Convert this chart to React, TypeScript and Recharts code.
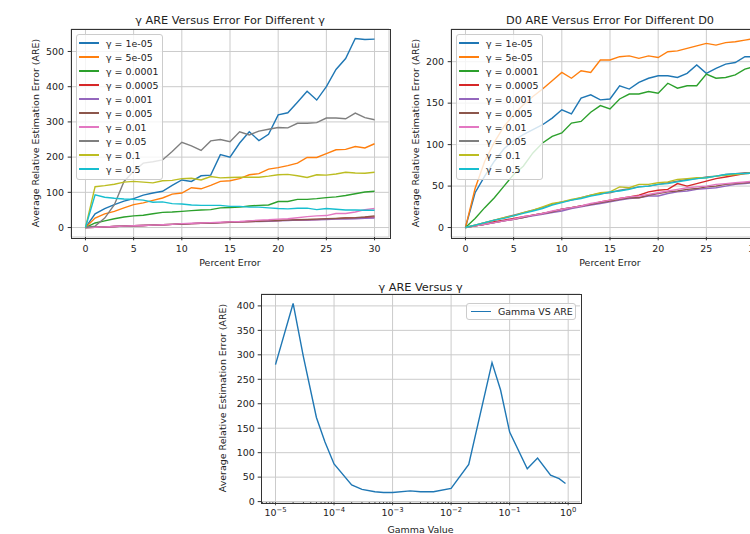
import { CartesianGrid, Line, LineChart, ReferenceLine, XAxis, YAxis } from 'recharts'

const FONT = '"DejaVu Sans", sans-serif'
const INK = '#222222'
const SPINE = '#333333'
const GRID = '#cbcbcb'
const FS = 9.45

const percentError = [
  0, 1, 2, 3, 4, 5, 6, 7, 8, 9, 10, 11, 12, 13, 14, 15, 16, 17, 18, 19, 20, 21, 22, 23, 24, 25, 26, 27, 28, 29, 30,
]
const gammaLabels = ['1e-05', '5e-05', '0.0001', '0.0005', '0.001', '0.005', '0.01', '0.05', '0.1', '0.5']
const colors = ['#1f77b4', '#ff7f0e', '#2ca02c', '#d62728', '#9467bd', '#8c564b', '#e377c2', '#7f7f7f', '#bcbd22', '#17becf']
const errorTicks = [0, 5, 10, 15, 20, 25, 30]

// gamma ARE vs percent error (left panel)
const gAre1e5 = [0, 39, 54, 65, 75, 82, 92, 98, 103, 120, 135, 131, 147, 149, 207, 200, 240, 272, 247, 265, 320, 326, 356, 387, 362, 400, 449, 480, 537, 534, 535]
const gAre5e5 = [0, 27, 39, 46, 56, 65, 70, 77, 84, 95, 98, 113, 110, 120, 131, 133, 139, 150, 153, 166, 170, 176, 183, 199, 199, 210, 221, 222, 230, 226, 238]
const gAre1e4 = [0, 13, 19, 25, 30, 33, 35, 39, 43, 44, 46, 48, 50, 51, 56, 57, 58, 61, 63, 64, 74, 74, 80, 80, 82, 85, 87, 91, 96, 101, 103]
const gAre5e4 = [0, 1, 2, 3, 4, 5, 6, 7, 8, 9, 10, 11, 12, 13, 14, 15, 16, 17, 18, 19, 20, 21, 21, 22, 23, 24, 25, 27, 27, 29, 30]
const gAre1e3 = [0, 1, 2, 3, 4, 5, 6, 7, 8, 9, 10, 11, 12, 13, 14, 15, 16, 17, 17, 18, 19, 20, 21, 21, 22, 23, 24, 24, 25, 26, 27]
const gAre5e3 = [0, 1, 2, 3, 4, 5, 6, 7, 8, 9, 10, 11, 12, 13, 14, 15, 16, 17, 18, 19, 20, 21, 22, 23, 24, 25, 26, 27, 28, 30, 33]
const gAre1e2 = [0, 1, 2, 3, 4, 5, 6, 7, 8, 9, 11, 12, 13, 14, 15, 16, 17, 19, 21, 22, 24, 25, 28, 31, 33, 34, 40, 40, 44, 51, 54]
const gAre5e2 = [0, 4, 27, 65, 131, 160, 183, 187, 192, 216, 242, 232, 219, 246, 250, 244, 272, 263, 274, 279, 284, 283, 296, 296, 298, 311, 311, 309, 325, 312, 306]
const gAre1e1 = [0, 116, 119, 123, 129, 131, 129, 127, 133, 134, 139, 140, 135, 145, 141, 142, 143, 143, 143, 146, 150, 151, 147, 142, 150, 149, 152, 157, 155, 154, 157]
const gAre5e1 = [0, 93, 86, 83, 81, 80, 78, 72, 73, 68, 67, 64, 63, 63, 63, 60, 60, 58, 58, 56, 54, 53, 55, 55, 51, 54, 52, 50, 50, 49, 49]

// D0 ARE vs percent error (right panel)
const dAre1e5 = [0, 42, 62, 80, 95, 105, 112, 118, 124, 132, 142, 137, 156, 160, 154, 155, 171, 167, 175, 180, 183, 183, 181, 186, 196, 186, 192, 197, 199, 206, 206]
const dAre5e5 = [0, 47, 80, 103, 122, 136, 148, 158, 167, 177, 187, 180, 189, 187, 202, 202, 206, 207, 204, 207, 205, 212, 213, 216, 219, 222, 220, 223, 224, 226, 228]
const dAre1e4 = [0, 11, 24, 36, 50, 64, 74, 90, 102, 110, 114, 126, 128, 139, 147, 143, 155, 161, 161, 164, 162, 174, 168, 171, 171, 185, 180, 181, 184, 191, 194]
const dAre5e4 = [0, 2, 4, 7, 9, 11, 13, 15, 17, 19, 22, 24, 26, 28, 31, 33, 35, 37, 39, 43, 45, 46, 53, 50, 53, 56, 59, 61, 63, 65, 66]
const dAre1e3 = [0, 2, 4, 6, 8, 10, 12, 14, 16, 18, 20, 23, 25, 27, 29, 31, 33, 35, 36, 38, 38, 41, 43, 44, 46, 47, 48, 50, 52, 53, 54]
const dAre5e3 = [0, 2, 4, 6, 8, 10, 12, 15, 17, 19, 22, 24, 26, 28, 30, 32, 34, 36, 36, 39, 41, 43, 44, 46, 47, 49, 50, 52, 53, 54, 55]
const dAre1e2 = [0, 2, 4, 6, 8, 10, 13, 15, 17, 20, 22, 24, 26, 29, 31, 33, 35, 37, 38, 40, 42, 44, 46, 48, 49, 50, 52, 53, 54, 55, 56]
const dAre5e2 = [0, 3, 6, 9, 12, 15, 18, 21, 24, 28, 31, 33, 36, 39, 41, 42, 45, 47, 49, 50, 52, 54, 56, 58, 59, 61, 62, 64, 65, 66, 66]
const dAre1e1 = [0, 3, 6, 9, 12, 14, 18, 21, 25, 29, 31, 34, 36, 39, 42, 43, 49, 48, 52, 52, 54, 55, 58, 59, 60, 60, 62, 63, 64, 65, 66]
const dAre5e1 = [0, 3, 6, 9, 11, 14, 17, 20, 23, 27, 30, 33, 35, 38, 40, 43, 44, 46, 49, 50, 52, 53, 55, 57, 59, 60, 62, 64, 65, 65, 66]

// gamma sweep (bottom panel)
const gammaValues = [1e-5, 2e-5, 3e-5, 5e-5, 7e-5, 1e-4, 2e-4, 3e-4, 5e-4, 7e-4, 1e-3, 2e-3, 3e-3, 5e-3, 1e-2, 2e-2, 5e-2, 7e-2, 1e-1, 2e-1, 3e-1, 5e-1, 7e-1, 9e-1]
const gammaSweepAre = [280, 405, 296, 172, 122, 77, 34, 25, 20, 18.5, 18.5, 22, 20, 20, 27, 76, 284, 228, 142, 67, 89, 54, 47, 37]
const sweepTicks = [0, 50, 100, 150, 200, 250, 300, 350, 400]

const gammaSeries = [gAre1e5, gAre5e5, gAre1e4, gAre5e4, gAre1e3, gAre5e3, gAre1e2, gAre5e2, gAre1e1, gAre5e1]
const d0Series = [dAre1e5, dAre5e5, dAre1e4, dAre5e4, dAre1e3, dAre5e3, dAre1e2, dAre5e2, dAre1e1, dAre5e1]

function padDomain(vals: number[]): [number, number] {
  const lo = Math.min(...vals)
  const hi = Math.max(...vals)
  const m = (hi - lo) * 0.05
  return [lo - m, hi + m]
}

function buildRows(series: number[][]) {
  return percentError.map((pe, i) => {
    const row: Record<string, number> = { pe }
    series.forEach((s, k) => {
      row['s' + k] = s[i]
    })
    return row
  })
}

// matplotlib-style box around the plot area
function Frame({ left, top, width, height }: { left: number; top: number; width: number; height: number }) {
  return (
    <div
      style={{
        position: 'absolute',
        left: left - 0.5,
        top: top - 0.5,
        width,
        height,
        border: `1px solid ${SPINE}`,
        pointerEvents: 'none',
      }}
    />
  )
}

function LegendRow({ label, color }: { label: string; color: string }) {
  return (
    <div style={{ display: 'flex', alignItems: 'center', height: 14, whiteSpace: 'nowrap' }}>
      <div style={{ width: 20, height: 1.5, background: color, marginRight: 7, flex: 'none' }} />
      <span>{label}</span>
    </div>
  )
}

const legendBoxStyle = {
  position: 'absolute' as const,
  boxSizing: 'border-box' as const,
  background: 'rgba(255,255,255,0.8)',
  border: '1px solid #cccccc',
  borderRadius: 3,
  fontFamily: FONT,
  fontSize: FS,
  color: INK,
}

function ErrorPanel({ title, series, yTicks, left }: { title: string; series: number[][]; yTicks: number[]; left: number }) {
  const rows = buildRows(series)
  const xDomain = padDomain(percentError)
  const yDomain = padDomain(series.flat())
  const axisText = { fill: INK, fontSize: FS, fontFamily: FONT }
  return (
    <div style={{ position: 'absolute', left, top: 0, width: 400, height: 270 }}>
      <div
        style={{
          position: 'absolute',
          left: 71,
          width: 318,
          top: 13.5,
          textAlign: 'center',
          fontFamily: FONT,
          fontSize: 11.3,
          lineHeight: '14px',
          color: INK,
          whiteSpace: 'nowrap',
        }}
      >
        {title}
      </div>
      <LineChart width={400} height={270} data={rows} margin={{ top: 29, right: 11, left: 0, bottom: 0 }}>
        <CartesianGrid stroke={GRID} strokeWidth={1} />
        <XAxis
          type="number"
          dataKey="pe"
          domain={xDomain}
          ticks={errorTicks}
          allowDataOverflow
          height={33}
          tickSize={3.3}
          tickMargin={5}
          axisLine={false}
          stroke={SPINE}
          tick={axisText}
          label={{ value: 'Percent Error', position: 'insideBottom', offset: 4.5, ...axisText }}
        />
        <YAxis
          type="number"
          domain={yDomain}
          ticks={yTicks}
          allowDataOverflow
          width={71}
          tickSize={3.3}
          tickMargin={3.7}
          axisLine={false}
          stroke={SPINE}
          tick={axisText}
          label={{ value: 'Average Relative Estimation Error (ARE)', angle: -90, position: 'center', ...axisText }}
        />
        {series.map((_, k) => (
          <Line
            key={k}
            type="linear"
            dataKey={'s' + k}
            stroke={colors[k]}
            strokeWidth={1.4}
            dot={false}
            isAnimationActive={false}
          />
        ))}
      </LineChart>
      <Frame left={71} top={29} width={318} height={208} />
      <div style={{ ...legendBoxStyle, left: 76, top: 34, width: 87, padding: '1px 0 3px 2px' }}>
        {gammaLabels.map((g, i) => (
          <LegendRow key={g} label={`γ = ${g}`} color={colors[i]} />
        ))}
      </div>
    </div>
  )
}

const sweepXDomain = (() => {
  const [a, b] = padDomain(gammaValues.map((g) => Math.log10(g)))
  return [Math.pow(10, a), Math.pow(10, b)] as [number, number]
})()
const sweepYDomain = padDomain(gammaSweepAre)
const decades = [-5, -4, -3, -2, -1, 0]
const sweepXTicks = [-6, -5, -4, -3, -2, -1, 0]
  .flatMap((e) => [1, 2, 3, 4, 5, 6, 7, 8, 9].map((m) => m * Math.pow(10, e)))
  .filter((v) => v >= sweepXDomain[0] && v <= sweepXDomain[1])

const TICK = 3.3
const TICK_MARGIN = 3

function LogTick(props: any) {
  const { x, y, payload } = props
  const lg = Math.log10(payload.value)
  const exp = Math.round(lg)
  const major = Math.abs(lg - exp) < 1e-6
  const axisY = y - TICK - TICK_MARGIN
  return (
    <g>
      <line x1={x} x2={x} y1={axisY} y2={axisY + (major ? TICK : 1.9)} stroke={SPINE} strokeWidth={0.8} />
      {major && (
        <text x={x} y={axisY + 14} textAnchor="middle" fontSize={FS} fill={INK} fontFamily={FONT}>
          10
          <tspan dy={-4.2} fontSize={6.8}>
            {exp < 0 ? '\u2212' + -exp : String(exp)}
          </tspan>
        </text>
      )}
    </g>
  )
}

function SweepPanel() {
  const rows = gammaValues.map((g, i) => ({ gamma: g, are: gammaSweepAre[i] }))
  const axisText = { fill: INK, fontSize: FS, fontFamily: FONT }
  return (
    <div style={{ position: 'absolute', left: 185, top: 270, width: 415, height: 264 }}>
      <div
        style={{
          position: 'absolute',
          left: 76,
          width: 319,
          top: 11,
          textAlign: 'center',
          fontFamily: FONT,
          fontSize: 11.3,
          lineHeight: '14px',
          color: INK,
        }}
      >
        γ ARE Versus γ
      </div>
      <LineChart width={415} height={264} data={rows} margin={{ top: 24, right: 20, left: 0, bottom: 0 }}>
        <CartesianGrid stroke={GRID} strokeWidth={1} vertical={false} />
        {decades.map((e) => (
          <ReferenceLine key={e} x={Math.pow(10, e)} stroke={GRID} strokeWidth={1} />
        ))}
        <XAxis
          type="number"
          dataKey="gamma"
          scale="log"
          domain={sweepXDomain}
          ticks={sweepXTicks}
          allowDataOverflow
          height={32}
          tickSize={TICK}
          tickMargin={TICK_MARGIN}
          tickLine={false}
          axisLine={false}
          stroke={SPINE}
          tick={<LogTick />}
          interval={0}
          label={{ value: 'Gamma Value', position: 'insideBottom', offset: 1, ...axisText }}
        />
        <YAxis
          type="number"
          domain={sweepYDomain}
          ticks={sweepTicks}
          allowDataOverflow
          width={76}
          tickSize={3.3}
          tickMargin={3}
          axisLine={false}
          stroke={SPINE}
          tick={axisText}
          label={{ value: 'Average Relative Estimation Error (ARE)', angle: -90, position: 'center', ...axisText }}
        />
        <Line type="linear" dataKey="are" stroke={colors[0]} strokeWidth={1.4} dot={false} isAnimationActive={false} />
      </LineChart>
      <Frame left={76} top={24} width={319} height={208} />
      <div style={{ ...legendBoxStyle, left: 281, top: 33, width: 110, height: 17, padding: '0 0 0 4px', display: 'flex', alignItems: 'center' }}>
        <LegendRow label="Gamma VS ARE" color={colors[0]} />
      </div>
    </div>
  )
}

export default function App() {
  return (
    <div
      style={{
        position: 'absolute',
        left: 0,
        top: 0,
        width: 750,
        height: 534,
        overflow: 'hidden',
        background: '#ffffff',
      }}
    >
      <ErrorPanel title="γ ARE Versus Error For Different γ" series={gammaSeries} yTicks={[0, 100, 200, 300, 400, 500]} left={0} />
      <ErrorPanel title="D0 ARE Versus Error For Different D0" series={d0Series} yTicks={[0, 50, 100, 150, 200]} left={380} />
      <SweepPanel />
    </div>
  )
}
